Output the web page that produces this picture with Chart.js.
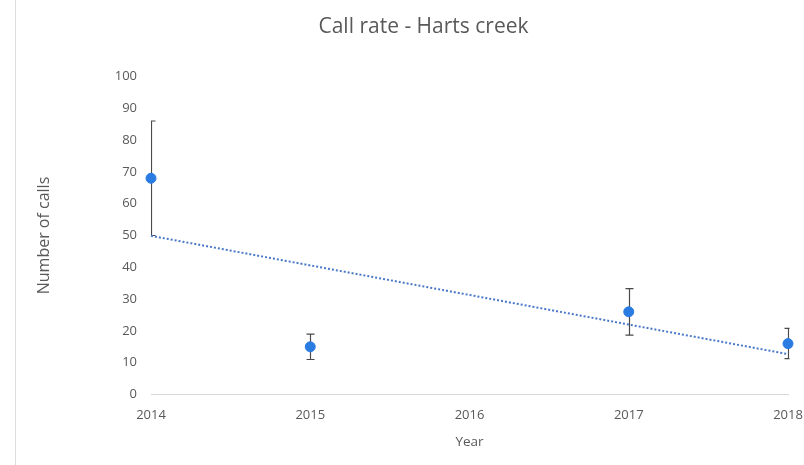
<!DOCTYPE html>
<html>
<head>
<meta charset="utf-8">
<script src="https://cdn.jsdelivr.net/npm/chart.js@4/dist/chart.umd.min.js"></script>
<style>
  body { margin: 0; background: #fff; overflow: hidden; }
  #wrap { position: relative; width: 804px; height: 465px; }
  #edge { position: absolute; left: 15px; top: 0; width: 1px; height: 465px; background: #dcdcdc; }
  canvas { position: absolute; left: 0; top: 0; }
</style>
</head>
<body>
<div id="wrap">
  <div id="edge"></div>
  <canvas id="callChart" width="804" height="465"></canvas>
</div>
<script>
// data
const years = [2014, 2015, 2017, 2018];
const calls = [68, 15, 26, 16];
const errLow = [50, 11, 18.7, 11.3];
const errHigh = [86, 19, 33.3, 20.8];
// linear trendline ends
const trendYears = [2014, 2018];
const trendCalls = [49.9, 12.7];

const textColor = "#595959";
const font = "'Open Sans', Lato, sans-serif";

// --- error bars drawn from the scales ---
const errorBars = {
  id: "errorBars",
  beforeDatasetsDraw(chart) {
    const { ctx, chartArea, scales: { x, y } } = chart;
    ctx.save();
    ctx.beginPath();
    ctx.rect(chartArea.left, chartArea.top - 2, chartArea.width + 1.5, chartArea.height + 4);
    ctx.clip();
    ctx.strokeStyle = "#4a4a4a";
    ctx.lineWidth = 1.2;
    years.forEach((yr, i) => {
      const px = Math.round(x.getPixelForValue(yr)) + 0.5;
      const top = y.getPixelForValue(errHigh[i]);
      const bot = y.getPixelForValue(errLow[i]);
      ctx.beginPath();
      ctx.moveTo(px, top); ctx.lineTo(px, bot);
      ctx.moveTo(px - 4, top); ctx.lineTo(px + 4, top);
      ctx.moveTo(px - 4, bot); ctx.lineTo(px + 4, bot);
      ctx.stroke();
    });
    ctx.restore();
  }
};

const ctx = document.getElementById("callChart").getContext("2d");
new Chart(ctx, {
  type: "scatter",
  data: {
    datasets: [
      {
        label: "Trend",
        data: trendYears.map((yr, i) => ({ x: yr, y: trendCalls[i] })),
        showLine: true,
        borderColor: "#4a78c8",
        borderWidth: 2,
        borderDash: [2, 2],
        pointRadius: 0,
        clip: false,
        order: 2
      },
      {
        label: "Calls",
        data: years.map((yr, i) => ({ x: yr, y: calls[i] })),
        backgroundColor: "#2a7be2",
        borderColor: "#2a7be2",
        pointRadius: 5,
        clip: false,
        order: 1
      }
    ]
  },
  options: {
    responsive: false,
    animation: false,
    layout: { padding: { left: 31, right: -12, top: 0, bottom: 11 } },
    plugins: {
      legend: { display: false },
      tooltip: { enabled: false },
      title: {
        display: true,
        text: "Call rate - Harts creek",
        color: textColor,
        font: { family: font, size: 21, weight: "normal" },
        padding: { top: 14.4, bottom: 36.9 }
      }
    },
    scales: {
      x: {
        type: "linear",
        min: 2014,
        max: 2018,
        grid: { display: false, drawTicks: false },
        border: { display: true, color: "#d9d9d9", width: 1 },
        ticks: {
          stepSize: 1,
          padding: 13,
          color: textColor,
          font: { family: font, size: 13 },
          callback: (v) => String(v)
        },
        title: {
          display: true,
          text: "Year",
          color: textColor,
          font: { family: font, size: 13.5 }
        },
        afterFit(scale) {
          scale.height = 59.5;
          scale.paddingRight = 16;
        }
      },
      y: {
        min: 0,
        max: 100,
        grid: { display: false, drawTicks: false },
        border: { display: false },
        ticks: {
          stepSize: 10,
          padding: 14,
          color: textColor,
          font: { family: font, size: 13 }
        },
        title: {
          display: true,
          text: "Number of calls",
          color: textColor,
          font: { family: font, size: 16 }
        },
        afterFit(scale) {
          scale.width = 120;
        }
      }
    }
  },
  plugins: [errorBars]
});
</script>
</body>
</html>
